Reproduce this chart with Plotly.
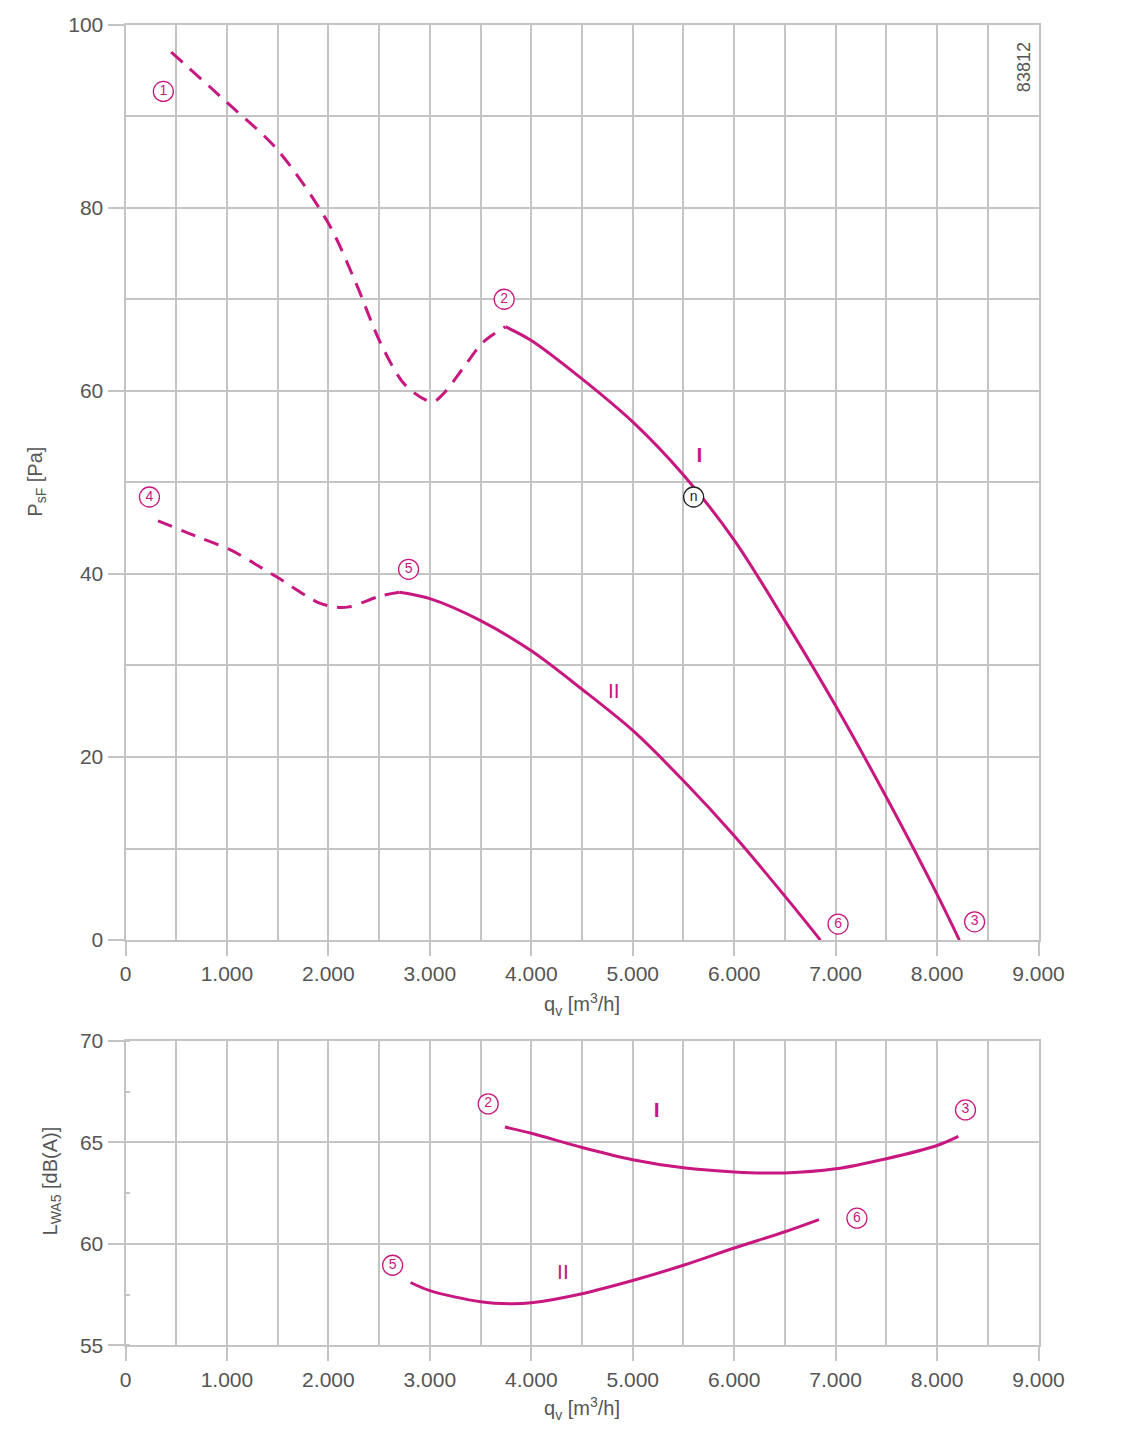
import plotly.graph_objects as go

# ---------------- data ----------------
# Pressure curve I (dashed = unstable range, solid = operating range)
p1_dash_q = [450, 1000, 1500, 2000, 2270, 2515, 2760, 3025, 3135, 3330, 3525, 3745]
p1_dash_p = [97.0, 91.5, 86.3, 78.3, 71.8, 65.2, 60.6, 58.8, 59.7, 62.5, 65.3, 67.0]
p1_solid_q = [3745, 4000, 4500, 5000, 5500, 6000, 6500, 7000, 7500, 8000, 8220]
p1_solid_p = [67.0, 65.5, 61.3, 56.6, 50.8, 43.7, 34.9, 25.6, 15.6, 5.0, 0.0]

# Pressure curve II
p2_dash_q = [320, 745, 1040, 1335, 1500, 1895, 2055, 2200, 2515, 2700]
p2_dash_p = [45.8, 43.9, 42.6, 40.7, 39.6, 36.9, 36.4, 36.4, 37.6, 38.0]
p2_solid_q = [2700, 3000, 3500, 4000, 4500, 5000, 5500, 6000, 6500, 6850]
p2_solid_p = [38.0, 37.3, 34.9, 31.6, 27.4, 22.9, 17.4, 11.4, 4.8, 0.0]

# Sound power curves
s1_q = [3740, 4000, 4500, 5000, 5500, 6000, 6500, 7000, 7500, 8000, 8210]
s1_l = [65.76, 65.45, 64.75, 64.15, 63.75, 63.55, 63.5, 63.7, 64.2, 64.85, 65.3]
s2_q = [2810, 3000, 3500, 3800, 4000, 4500, 5000, 5500, 6000, 6500, 6835]
s2_l = [58.1, 57.7, 57.15, 57.05, 57.1, 57.55, 58.2, 58.95, 59.8, 60.6, 61.2]

# Marker labels
top_marks_q = [373, 3733, 8370, 236, 2790, 7024]
top_marks_p = [92.7, 70.0, 2.0, 48.4, 40.5, 1.75]
top_marks_t = ["1", "2", "3", "4", "5", "6"]
bot_marks_q = [3575, 8280, 2633, 7210]
bot_marks_l = [66.9, 66.6, 58.95, 61.27]
bot_marks_t = ["2", "3", "5", "6"]
curve_names = ["<b>I</b>", "II"]
top_name_q = [5658, 4813]
top_name_p = [52.8, 27.0]
bot_name_q = [5236, 4312]
bot_name_l = [66.5, 58.55]
n_point_q = [5600]
n_point_p = [48.4]

# ---------------- style ----------------
MAG = "#c8177e"
GRID = "#c4c4c4"
TXT = "#555555"
FONT = "Liberation Sans, Arial, sans-serif"
W, H = 1132, 1436

# observed render mapping compensation (image px -> layout px)
SX, OX = 0.9749, 4.1
SY, OY = 0.9856, 9.36
def px(r):
    return (r - OX) / SX
def py(r):
    return (r - OY) / SY

fig = go.Figure()

def line(q, v, dash, xa, ya):
    fig.add_trace(go.Scatter(
        x=q, y=v, mode="lines", xaxis=xa, yaxis=ya,
        line=dict(color=MAG, width=3, dash=dash, shape="spline", smoothing=0.9),
        hoverinfo="skip", showlegend=False))

line(p1_dash_q, p1_dash_p, "15px,10px", "x", "y")
line(p1_solid_q, p1_solid_p, "solid", "x", "y")
line(p2_dash_q, p2_dash_p, "15px,10px", "x", "y")
line(p2_solid_q, p2_solid_p, "solid", "x", "y")
line(s1_q, s1_l, "solid", "x2", "y2")
line(s2_q, s2_l, "solid", "x2", "y2")

def circled(q, v, t, xa, ya, color):
    fig.add_trace(go.Scatter(
        x=q, y=v, mode="markers+text", xaxis=xa, yaxis=ya, text=t,
        textposition="middle center",
        textfont=dict(color=color, size=14, family=FONT),
        marker=dict(symbol="circle", size=20, color="white",
                    line=dict(color=color, width=1.3)),
        hoverinfo="skip", showlegend=False))

circled(top_marks_q, top_marks_p, top_marks_t, "x", "y", MAG)
circled(bot_marks_q, bot_marks_l, bot_marks_t, "x2", "y2", MAG)
circled(n_point_q, n_point_p, ["n"], "x", "y", "#222222")

fig.add_trace(go.Scatter(
    x=top_name_q, y=top_name_p, mode="text", text=curve_names, xaxis="x", yaxis="y",
    textfont=dict(color=MAG, size=21, family=FONT), hoverinfo="skip", showlegend=False))
fig.add_trace(go.Scatter(
    x=bot_name_q, y=bot_name_l, mode="text", text=curve_names, xaxis="x2", yaxis="y2",
    textfont=dict(color=MAG, size=21, family=FONT), hoverinfo="skip", showlegend=False))

xdom = [px(124) / W, px(1040) / W]
ydom_top = [1 - py(939) / H, 1 - py(22) / H]
ydom_bot = [1 - py(1345) / H, 1 - py(1040) / H]

TICKFONT = dict(size=21, color=TXT, family=FONT)

xaxis_common = dict(
    range=[0, 9000], domain=xdom, tickmode="linear", tick0=0, dtick=1000,
    separatethousands=True, showgrid=True, gridcolor=GRID, gridwidth=2,
    minor=dict(dtick=500, showgrid=True, gridcolor=GRID, gridwidth=2),
    ticks="outside", ticklen=14, tickcolor=GRID, tickwidth=2,
    showline=True, linecolor=GRID, linewidth=2, mirror=True, zeroline=False,
    tickfont=TICKFONT, fixedrange=True)

fig.update_layout(
    width=W, height=H, autosize=False,
    margin=dict(l=0, r=0, t=0, b=0),
    paper_bgcolor="white", plot_bgcolor="white",
    separators=",.",
    font=dict(family=FONT, color=TXT),
    xaxis=dict(xaxis_common, anchor="y"),
    xaxis2=dict(xaxis_common, anchor="y2"),
    yaxis=dict(
        range=[0, 100], domain=ydom_top, anchor="x", tickmode="linear", tick0=0, dtick=20,
        showgrid=True, gridcolor=GRID, gridwidth=2,
        minor=dict(dtick=10, showgrid=True, gridcolor=GRID, gridwidth=2),
        ticks="outside", ticklen=16, tickcolor=GRID, tickwidth=2,
        showline=True, linecolor=GRID, linewidth=2, mirror=True, zeroline=False,
        tickfont=TICKFONT, fixedrange=True),
    yaxis2=dict(
        range=[55, 70], domain=ydom_bot, anchor="x2", tickmode="linear", tick0=55, dtick=5,
        showgrid=True, gridcolor=GRID, gridwidth=2,
        minor=dict(dtick=2.5, ticks="inside", ticklen=4, tickcolor=GRID, showgrid=False),
        ticks="outside", ticklen=16, tickcolor=GRID, tickwidth=2,
        showline=True, linecolor=GRID, linewidth=2, mirror=True, zeroline=False,
        tickfont=TICKFONT, fixedrange=True),
)

ann = dict(xref="paper", yref="paper", showarrow=False,
           font=dict(size=20, color=TXT, family=FONT))
fig.add_annotation(ann, text="P<sub>sF</sub> [Pa]", x=px(35) / W, y=1 - py(480) / H,
                   textangle=-90, xanchor="center", yanchor="middle")
fig.add_annotation(ann, text="L<sub>WA5</sub> [dB(A)]", x=px(50) / W, y=1 - py(1180) / H,
                   textangle=-90, xanchor="center", yanchor="middle")
fig.add_annotation(ann, text="q<sub>v</sub> [m<sup>3</sup>/h]", x=px(582) / W, y=1 - py(1003) / H,
                   xanchor="center", yanchor="middle")
fig.add_annotation(ann, text="q<sub>v</sub> [m<sup>3</sup>/h]", x=px(582) / W, y=1 - py(1408) / H,
                   xanchor="center", yanchor="middle")
fig.add_annotation(ann, text="83812", x=px(1025) / W, y=1 - py(65) / H, textangle=-90,
                   xanchor="center", yanchor="middle",
                   font=dict(size=18, color=TXT, family=FONT))

fig.write_html(
    "out.html",
    post_script="document.documentElement.style.margin='0';"
                "document.body.style.margin='0';"
                "document.body.style.overflow='hidden';"
                "document.documentElement.style.overflow='hidden';",
)
